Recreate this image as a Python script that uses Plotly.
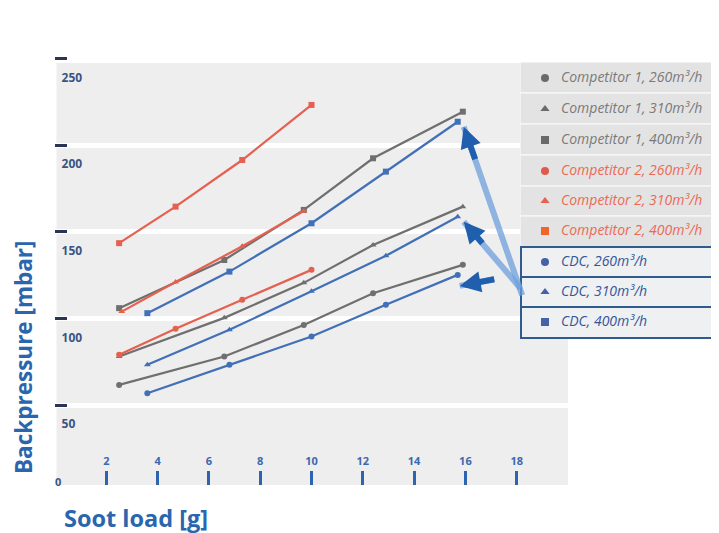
import plotly.graph_objects as go

# The page places the figure 8px from the top-left corner of the window,
# so the figure is sized to fill the remaining 711x525 area.
OFF = 8
FW, FH = 719 - OFF, 533 - OFF


def fx(x):
    return (x - OFF) / FW


def fy(y):
    return 1 - (y - OFF) / FH


# ---------------- data ----------------
comp1_x = [2.5, 6.6, 9.7, 12.4, 15.9]
comp1_260 = [61.6, 78.0, 96.2, 114.5, 130.9]
comp1_310 = [78.0, 100.3, 120.5, 142.4, 164.5]
comp1_400 = [105.9, 133.7, 162.6, 192.4, 219.3]

comp2_x = [2.5, 4.7, 7.3, 10.0]
comp2_260 = [79.0, 94.0, 110.7, 128.0]
comp2_310_x = [2.6, 4.7, 7.3, 9.7]
comp2_310 = [103.9, 121.0, 141.6, 162.0]
comp2_400 = [143.4, 164.5, 191.4, 223.2]

cdc_x = [3.6, 6.8, 10.0, 12.9, 15.7]
cdc_260 = [56.8, 73.2, 89.5, 107.8, 125.1]
cdc_310 = [73.2, 93.4, 115.6, 136.1, 158.7]
cdc_400 = [103.0, 127.0, 154.9, 184.7, 213.5]

x_tickvals = [2, 4, 6, 8, 10, 12, 14, 16, 18, 20]
x_ticktext = ["2", "4", "6", "8", "10", "12", "14", "16", "18", ""]
y_tickvals = [50, 100, 150, 200, 250]
y_ticktext = ["50", "100", "150", "200", "250"]

legend_names = [
    "Competitor 1, 260m³/h", "Competitor 1, 310m³/h", "Competitor 1, 400m³/h",
    "Competitor 2, 260m³/h", "Competitor 2, 310m³/h", "Competitor 2, 400m³/h",
    "CDC, 260m³/h", "CDC, 310m³/h", "CDC, 400m³/h",
]

# ---------------- styles ----------------
GRAY = "#6f6f6f"
RED = "#e5604f"
BLUE = "#4170b6"
FONT = "Open Sans"

series = [
    (comp1_x, comp1_260, GRAY, "circle"),
    (comp1_x, comp1_310, GRAY, "triangle-up"),
    (comp1_x, comp1_400, GRAY, "square"),
    (comp2_x, comp2_260, RED, "circle"),
    (comp2_310_x, comp2_310, RED, "triangle-up"),
    (comp2_x, comp2_400, RED, "square"),
    (cdc_x, cdc_260, BLUE, "circle"),
    (cdc_x, cdc_310, BLUE, "triangle-up"),
    (cdc_x, cdc_400, BLUE, "square"),
]

fig = go.Figure()
for (xs, ys, col, sym), name in zip(series, legend_names):
    fig.add_trace(go.Scatter(
        x=xs, y=ys, mode="lines+markers", name=name,
        line=dict(color=col, width=2.2),
        marker=dict(symbol=sym, size=6, color=col),
        showlegend=False, xaxis="x", yaxis="y",
    ))

# custom legend panel (drawn in its own pixel-scaled axes)
row_y = [78, 109, 140, 171, 201, 231, 262, 292, 322]
leg_marker_colors = ["#6a6a6a", "#6a6a6a", "#6a6a6a",
                     "#e0594c", "#e8604f", "#f0642f",
                     "#4462a8", "#4462a8", "#4462a8"]
leg_text_colors = ["#7a7a7a", "#7a7a7a", "#7a7a7a",
                   "#ec6a55", "#ec6a55", "#ec6a55",
                   "#34569a", "#34569a", "#34569a"]
leg_symbols = [s[3] for s in series]

fig.add_trace(go.Scatter(
    x=[545] * len(row_y), y=row_y, mode="markers",
    marker=dict(symbol=leg_symbols, color=leg_marker_colors, size=8),
    xaxis="x2", yaxis="y2", showlegend=False, hoverinfo="skip",
))
fig.add_trace(go.Scatter(
    x=[561] * len(row_y), y=row_y, mode="text",
    text=[f"<i>{n}</i>" for n in legend_names],
    textposition="middle right",
    textfont=dict(color=leg_text_colors, size=14, family=FONT),
    xaxis="x2", yaxis="y2", showlegend=False, hoverinfo="skip",
))

shapes = []
# plot background
shapes.append(dict(type="rect", xref="paper", yref="paper",
                   x0=fx(56.5), x1=fx(568), y0=fy(485), y1=fy(63),
                   fillcolor="#eeeeee", line=dict(width=0), layer="below"))
# competitor rows
comp_bounds = [62, 93, 124, 155, 186, 216, 247]
for i in range(6):
    shapes.append(dict(type="rect", xref="x2", yref="y2",
                       x0=520, x1=730, y0=comp_bounds[i], y1=comp_bounds[i + 1],
                       fillcolor="#e3e3e3", line=dict(color="#f6f6f6", width=1.5),
                       layer="below"))
# CDC rows
cdc_bounds = [247, 277, 307, 338]
for i in range(3):
    shapes.append(dict(type="rect", xref="x2", yref="y2",
                       x0=521, x1=730, y0=cdc_bounds[i], y1=cdc_bounds[i + 1],
                       fillcolor="#eff0f2", line=dict(color="#2f5b8f", width=2),
                       layer="below"))

annotations = [
    dict(text="<b>Backpressure [mbar]</b>", textangle=-90, xref="paper", yref="paper",
         x=fx(23), y=fy(357), xanchor="center", yanchor="middle", showarrow=False,
         font=dict(size=22.5, color="#2a66ae", family=FONT)),
    dict(text="<b>Soot load [g]</b>", xref="paper", yref="paper",
         x=fx(62), y=fy(518), xanchor="left", yanchor="middle", showarrow=False,
         font=dict(size=23.5, color="#2a66ae", family=FONT)),
    dict(text="<b>0</b>", xref="paper", yref="paper",
         x=fx(53), y=fy(481), xanchor="left", yanchor="middle", showarrow=False,
         font=dict(size=11, color="#3b5482", family=FONT)),
]

# arrows pointing from the CDC legend box to the CDC curves
arrows = [
    (cdc_x[-1], cdc_400[-1], 6, -5, 59, 170, 12, 34),
    (cdc_x[-1], cdc_310[-1], 6, -5, 58, 68, 20, 23),
    (cdc_x[-1], cdc_260[-1], 2, -11, 36, -7, 36, -7),
]
for (hx, hy, xs, ys, ax, ay, dax, day) in arrows:
    annotations.append(dict(x=hx, y=hy, xref="x", yref="y", xshift=xs, yshift=ys,
                            text="", showarrow=True, ax=ax, ay=ay, arrowhead=0,
                            arrowwidth=6, arrowcolor="rgba(110,160,220,0.75)"))
    annotations.append(dict(x=hx, y=hy, xref="x", yref="y", xshift=xs, yshift=ys,
                            text="", showarrow=True, ax=dax, ay=day, arrowhead=2,
                            arrowsize=0.7, arrowwidth=6, arrowcolor="#1f5fae"))

PX_PER_MBAR = 1.7325
y_top = 250 + (58.5 - 50) / PX_PER_MBAR
y_bot = 250 - (485 - 58.5) / PX_PER_MBAR

fig.update_layout(
    width=FW, height=FH,
    margin=dict(l=0, r=0, t=0, b=0),
    paper_bgcolor="white", plot_bgcolor="rgba(0,0,0,0)",
    font=dict(family=FONT),
    shapes=shapes, annotations=annotations,
    xaxis=dict(domain=[fx(55), fx(568)], range=[0, 20],
               tickvals=x_tickvals, ticktext=x_ticktext,
               ticks="inside", ticklen=14, tickwidth=3, tickcolor="#2e64ae",
               ticklabelposition="inside", ticklabeloverflow="allow",
               ticklabelstandoff=3,
               tickfont=dict(size=11, color="#3a69b0", family=FONT, weight="bold"),
               showgrid=False, zeroline=False, showline=False, fixedrange=True),
    yaxis=dict(domain=[fy(485), fy(50)], range=[y_bot, y_top],
               tickvals=y_tickvals, ticktext=y_ticktext,
               ticks="inside", ticklen=12, tickwidth=3, tickcolor="#2b3553",
               ticklabelposition="inside", ticklabelshift=19, ticklabelstandoff=-6,
               ticklabeloverflow="allow",
               tickfont=dict(size=12, color="#3b5482", family=FONT, weight="bold"),
               showgrid=True, gridcolor="white", gridwidth=5,
               zeroline=False, showline=False, fixedrange=True),
    xaxis2=dict(domain=[fx(520), 1], range=[520, 719], visible=False, fixedrange=True),
    yaxis2=dict(domain=[fy(340), fy(62)], range=[340, 62],
                visible=False, fixedrange=True),
)

fig.write_html("out.html", config={"displayModeBar": False})
